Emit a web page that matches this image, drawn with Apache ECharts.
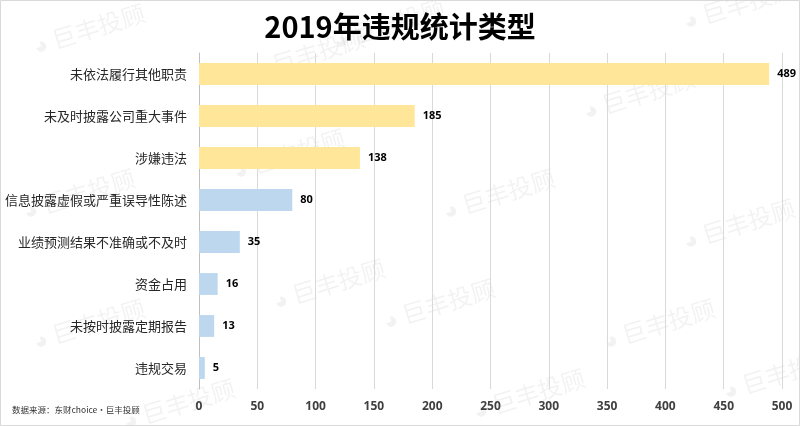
<!DOCTYPE html>
<html>
<head>
<meta charset="utf-8">
<script src="https://cdn.jsdelivr.net/npm/echarts@6/dist/echarts.min.js"></script>
<style>html,body{margin:0;padding:0;background:#fff}#c{width:800px;height:426px}</style>
</head>
<body>
<div id="c"></div>
<script>
var categories = ['未依法履行其他职责','未及时披露公司重大事件','涉嫌违法','信息披露虚假或严重误导性陈述','业绩预测结果不准确或不及时','资金占用','未按时披露定期报告','违规交易'];
var values = [489,185,138,80,35,16,13,5];
var barColors = ['#FFE699','#FFE699','#FFE699','#BDD7EE','#BDD7EE','#BDD7EE','#BDD7EE','#BDD7EE'];
var xTicks = {min:0, max:500, interval:50};

var chart = echarts.init(document.getElementById('c'));
var marks = [];
var wmPos = [[30,35],[330,30],[580,100],[230,160],[20,200],[440,200],[680,10],[270,290],[30,330],[600,330],[470,400],[120,410],[680,230],[250,60],[380,310],[720,380]];
wmPos.forEach(function(p){
  marks.push({type:'text', x:p[0], y:p[1], rotation:0.3, z:-1, silent:true,
    style:{text:'◕ 巨丰投顾', fill:'rgba(0,0,0,0.05)', font:'24px "Noto Sans CJK SC"'}});
});
marks.push({type:'rect', shape:{x:0.5,y:0.5,width:799,height:425}, style:{fill:null, stroke:'#d9d9d9', lineWidth:1}, silent:true});
marks.push({type:'text', left:12, top:406, style:{text:'数据来源：东财choice·巨丰投顾', fill:'#333', font:'8.5px "Noto Sans CJK SC"'}});

chart.setOption({
  animation:false,
  backgroundColor:'#fff',
  title:{text:'2019年违规统计类型', left:'center', top:7,
    textStyle:{fontSize:29, fontWeight:'bold', color:'#000', fontFamily:'"Noto Sans CJK SC"'}},
  grid:{left:199, right:18, top:53, bottom:37, containLabel:false},
  xAxis:{type:'value', min:xTicks.min, max:xTicks.max, interval:xTicks.interval,
    axisLine:{show:false}, axisTick:{show:false},
    splitLine:{lineStyle:{color:'#d9d9d9'}},
    axisLabel:{color:'#404040', fontSize:12, fontWeight:'bold', margin:12, fontFamily:'"Open Sans"'}},
  yAxis:{type:'category', data:categories, inverse:true,
    axisLine:{show:true, lineStyle:{color:'#bfbfbf'}}, axisTick:{show:false},
    axisLabel:{color:'#262626', fontSize:13, margin:12, fontFamily:'"Noto Sans CJK SC"'}},
  series:[{type:'bar', barWidth:'52%',
    data:values.map(function(v,i){return {value:v, itemStyle:{color:barColors[i]}};}),
    label:{show:true, position:'right', distance:8, color:'#000', fontWeight:'bold', fontSize:11, fontFamily:'"Open Sans"'}}],
  graphic:marks
});
</script>
</body>
</html>
